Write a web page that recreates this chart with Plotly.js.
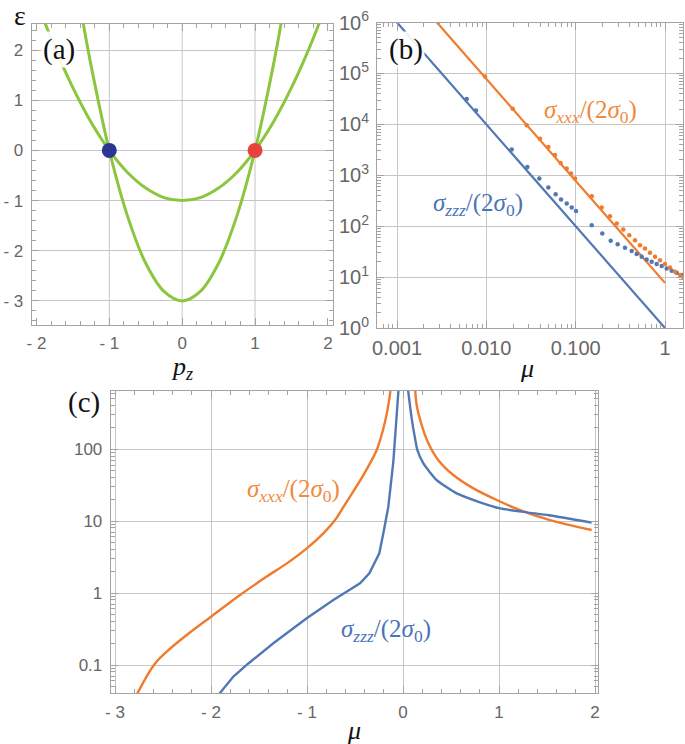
<!DOCTYPE html>
<html><head><meta charset="utf-8">
<script src="https://cdn.plot.ly/plotly-3.0.1.min.js"></script>
<style>html,body{margin:0;padding:0;background:#fff}#chart{width:685px;height:744px}</style>
</head><body><div id="chart"></div>
<script>
// ---------- Panel (a): band dispersion ----------
const aOuterP = [-1.9,-1.75,-1.5,-1.25,-1,-0.75,-0.5,-0.25,0,0.25,0.5,0.75,1,1.25,1.5,1.75,1.9];
const aOuterE = [2.61,2.06,1.25,0.56,0,-0.44,-0.75,-0.94,-1,-0.94,-0.75,-0.44,0,0.56,1.25,2.06,2.61];
const aInnerP = [-1.4,-1.25,-1,-0.75,-0.5,-0.25,0,0.25,0.5,0.75,1,1.25,1.4];
const aInnerE = [2.88,1.69,0,-1.31,-2.25,-2.81,-3,-2.81,-2.25,-1.31,0,1.69,2.88];
const aBlueDot = {p:[-1], e:[0]};
const aRedDot = {p:[1], e:[0]};
const aTickVals = [-2,-1,0,1,2];
const aTickText = ['- 2','- 1','0','1','2'];
const aYTickVals = [-3,-2,-1,0,1,2];
const aYTickText = ['- 3','- 2','- 1','0','1','2'];
const aGridX = [-1,0,1];

// ---------- Panel (b): log-log ----------
const bZzzLineMu = [0.001, 1];
const bZzzLineS = [1e6, 1.0];
const bXxxLineMu = [0.0028, 1];
const bXxxLineS = [1e6, 7.7];
const bZzzDotLogMu = [-2.22,-2.116,-1.716,-1.541,-1.407,-1.306,-1.224,-1.164,-1.1,-1.044,-0.996,-0.82,-0.702,-0.608,-0.53,-0.448,-0.373,-0.317,-0.261,-0.205,-0.149,-0.093,-0.037,0.019,0.075,0.131,0.187];
const bZzzDotLogS  = [4.5,4.27,3.504,3.163,2.935,2.758,2.627,2.523,2.444,2.366,2.30,2.02,1.857,1.712,1.647,1.575,1.51,1.451,1.398,1.347,1.30,1.255,1.216,1.17,1.124,1.084,1.04];
const bXxxDotLogMu = [-2.015,-1.705,-1.548,-1.399,-1.306,-1.231,-1.168,-1.1,-1.052,-1.007,-0.82,-0.708,-0.616,-0.54,-0.467,-0.4,-0.336,-0.28,-0.224,-0.168,-0.112,-0.056,0.0,0.056,0.112,0.168,0.205];
const bXxxDotLogS  = [4.94,4.307,3.98,3.719,3.555,3.398,3.242,3.131,3.033,2.935,2.588,2.366,2.196,2.052,1.935,1.824,1.725,1.627,1.562,1.476,1.398,1.333,1.255,1.19,1.104,1.04,0.994];
const bXTickVals = [0.001,0.01,0.1,1];
const bXTickText = ['0.001','0.010','0.100','1'];
const bYTickVals = [1,10,100,1000,10000,100000,1000000];
const bYTickText = ['10<sup>0</sup>','10<sup>1</sup>','10<sup>2</sup>','10<sup>3</sup>','10<sup>4</sup>','10<sup>5</sup>','10<sup>6</sup>'];

// ---------- Panel (c): semi-log ----------
const cXxxLeftMu = [-2.80,-2.764,-2.583,-2.444,-2.253,-2.0,-1.698,-1.42,-1.21,-1.003,-0.83,-0.708,-0.587,-0.413,-0.274,-0.1875,-0.142,-0.12];
const cXxxLeftS  = [0.032,0.041,0.105,0.161,0.261,0.469,0.94,1.69,2.58,4.17,6.75,10.3,18.5,43.5,97,239,506,900];
const cXxxRightMu = [0.12,0.142,0.195,0.264,0.368,0.524,0.733,0.976,1.219,1.531,1.965];
const cXxxRightS  = [900,409,215,120,70,43.5,28.4,19.6,14.2,10.3,7.5];
const cZzzLeftMu = [-1.95,-1.906,-1.767,-1.611,-1.351,-1.003,-0.726,-0.448,-0.351,-0.247,-0.205,-0.153,-0.101,-0.066,-0.04];
const cZzzLeftS  = [0.032,0.041,0.069,0.105,0.2,0.445,0.8,1.36,1.88,3.56,6.75,15.8,66.6,267,900];
const cZzzRightMu = [0.04,0.09,0.125,0.149,0.212,0.351,0.559,0.802,1.01,1.288,1.52,1.965];
const cZzzRightS  = [900,267,141,97,63,37,24.2,18.2,15,13.2,12.0,9.5];
const cXTickVals = [-3,-2,-1,0,1,2];
const cXTickText = ['- 3','- 2','- 1','0','1','2'];
const cYTickVals = [0.1,1,10,100];
const cYTickText = ['0.1','1','10','100'];

// ---------- styling ----------
const W = 685, H = 744;
const px = v => v / W, py = v => 1 - v / H;
const GREEN = '#8cc63f', BLUE = '#5278b4', ORANGE = '#f07b2c';
const BLUE_T = '#4a74b8', ORANGE_T = '#f08a3c';
const FRAME = '#a3a3a3', GRID = '#c6c6c6';
const pow10 = a => a.map(v => Math.pow(10, v));

const traces = [
  {x:aOuterP, y:aOuterE, xaxis:'x', yaxis:'y', mode:'lines', line:{color:GREEN, width:3, shape:'spline'}},
  {x:aInnerP, y:aInnerE, xaxis:'x', yaxis:'y', mode:'lines', line:{color:GREEN, width:3, shape:'spline'}},
  {x:aBlueDot.p, y:aBlueDot.e, xaxis:'x', yaxis:'y', mode:'markers', marker:{color:'#2c3494', size:15}, cliponaxis:false},
  {x:aRedDot.p, y:aRedDot.e, xaxis:'x', yaxis:'y', mode:'markers', marker:{color:'#e8433a', size:15}, cliponaxis:false},

  {x:bZzzLineMu, y:bZzzLineS, xaxis:'x2', yaxis:'y2', mode:'lines', line:{color:BLUE, width:2.2}},
  {x:bXxxLineMu, y:bXxxLineS, xaxis:'x2', yaxis:'y2', mode:'lines', line:{color:ORANGE, width:2.2}},
  {x:pow10(bZzzDotLogMu), y:pow10(bZzzDotLogS), xaxis:'x2', yaxis:'y2', mode:'markers', marker:{color:BLUE, size:4.5}},
  {x:pow10(bXxxDotLogMu), y:pow10(bXxxDotLogS), xaxis:'x2', yaxis:'y2', mode:'markers', marker:{color:ORANGE, size:4.5}},

  {x:cXxxLeftMu, y:cXxxLeftS, xaxis:'x3', yaxis:'y3', mode:'lines', line:{color:ORANGE, width:2.4, shape:'spline', smoothing:0.8}},
  {x:cXxxRightMu, y:cXxxRightS, xaxis:'x3', yaxis:'y3', mode:'lines', line:{color:ORANGE, width:2.4, shape:'spline', smoothing:0.8}},
  {x:cZzzLeftMu, y:cZzzLeftS, xaxis:'x3', yaxis:'y3', mode:'lines', line:{color:BLUE, width:2.4}},
  {x:cZzzRightMu, y:cZzzRightS, xaxis:'x3', yaxis:'y3', mode:'lines', line:{color:BLUE, width:2.4, shape:'spline', smoothing:0.5}}
];

function ax(extra){
  return Object.assign({
    showline:true, linecolor:FRAME, linewidth:1, mirror:'ticks',
    ticks:'inside', ticklen:7, tickcolor:FRAME, tickwidth:1,
    showgrid:true, gridcolor:GRID, gridwidth:1, zeroline:false,
    tickmode:'array', fixedrange:true,
    tickfont:{family:'Liberation Sans, Arial, sans-serif', size:17, color:'#666'}
  }, extra);
}
const minorLin = {ticks:'inside', ticklen:4, tickcolor:FRAME, dtick:0.2, showgrid:false};
const minorLog = {ticks:'inside', ticklen:4, tickcolor:FRAME, dtick:'D1', showgrid:false};
const bigTick = {family:'Liberation Sans, Arial, sans-serif', size:20, color:'#666'};

const layout = {
  width:W, height:H, margin:{l:0,r:0,t:0,b:0}, showlegend:false,
  paper_bgcolor:'#fff', plot_bgcolor:'#fff',
  xaxis: ax({domain:[px(31.7), px(333)], anchor:'y', range:[-2.065,2.07], tickvals:aTickVals, ticktext:aTickText, showgrid:false, minor:minorLin, ticklabelstandoff:3}),
  yaxis: ax({domain:[py(325), py(24)], anchor:'x', range:[-3.48,2.52], tickvals:aYTickVals, ticktext:aYTickText, minor:minorLin, ticklabelstandoff:4}),
  xaxis2: ax({domain:[px(377), px(683)], anchor:'y2', type:'log', range:[-3.224,0.2015], tickvals:bXTickVals, ticktext:bXTickText, minor:minorLog, ticklabelstandoff:2, tickfont:bigTick}),
  yaxis2: ax({domain:[py(328), py(22.5)], anchor:'x2', type:'log', range:[0,6], tickvals:bYTickVals, ticktext:bYTickText, minor:minorLog, ticklabelstandoff:3, tickfont:bigTick}),
  xaxis3: ax({domain:[px(110.7), px(598)], anchor:'y3', range:[-3.045,2.031], tickvals:cXTickVals, ticktext:cXTickText, minor:minorLin, ticklabelstandoff:4}),
  yaxis3: ax({domain:[py(693), py(391)], anchor:'x3', type:'log', range:[-1.389,2.806], tickvals:cYTickVals, ticktext:cYTickText, minor:minorLog, ticklabelstandoff:4}),
  shapes: aGridX.map(v => ({type:'line', layer:'below', xref:'x', yref:'y domain', x0:v, x1:v, y0:0, y1:1, line:{color:GRID, width:1}})),
  annotations: []
};

const serif = 'Liberation Serif, Times New Roman, serif';
function note(text, x, y, size, color, extra){
  layout.annotations.push(Object.assign({text, x:px(x), y:py(y), xref:'paper', yref:'paper', showarrow:false, xanchor:'center', yanchor:'middle', font:{family:serif, size, color}}, extra||{}));
}
note('(a)', 59, 49, 29, '#111', {bgcolor:'rgba(255,255,255,0.9)'});
note('(b)', 406, 49, 29, '#111', {bgcolor:'rgba(255,255,255,0.9)'});
note('(c)', 84, 402, 29, '#111');
note('ε', 20, 16, 28, '#111');
note('<i>p</i><sub><i>z</i></sub>', 182, 368, 26, '#111');
note('<i>μ</i>', 527, 368, 26, '#111');
note('<i>μ</i>', 354, 730, 26, '#111');
const lblX = '<i>σ</i><sub><i>xxx</i></sub>/(2<i>σ</i><sub>0</sub>)';
const lblZ = '<i>σ</i><sub><i>zzz</i></sub>/(2<i>σ</i><sub>0</sub>)';
note(lblX, 590, 112, 25, ORANGE_T);
note(lblZ, 478, 205, 25, BLUE_T);
note(lblX, 293, 490, 25, ORANGE_T);
note(lblZ, 386, 630, 25, BLUE_T);

Plotly.newPlot('chart', traces, layout, {staticPlot:true, displayModeBar:false});
</script></body></html>
